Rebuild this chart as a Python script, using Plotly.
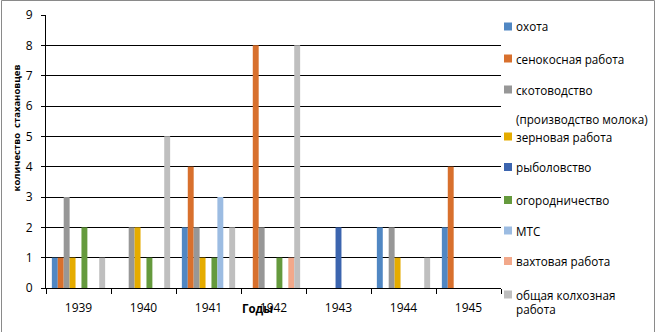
import plotly.graph_objects as go

years = ["1939", "1940", "1941", "1942", "1943", "1944", "1945"]
series_names = [
    "охота",
    "сенокосная работа",
    "скотоводство\n(производство молока)",
    "зерновая работа",
    "рыболовство",
    "огородничество",
    "МТС",
    "вахтовая работа",
    "общая колхозная\nработа",
]
colors = ["#5087C3", "#D8702D", "#979797", "#E5AC00", "#3C65AF",
          "#659A3D", "#9CBCE2", "#F2A88A", "#BFBFBF"]

ohota = [1, 0, 2, 0, 0, 2, 2]
senokos = [1, 0, 4, 8, 0, 0, 4]
skotovodstvo = [3, 2, 2, 2, 0, 2, 0]
zernovaya = [1, 2, 1, 0, 0, 1, 0]
rybolovstvo = [0, 0, 0, 0, 2, 0, 0]
ogorod = [2, 1, 1, 1, 0, 0, 0]
mts = [0, 0, 3, 0, 0, 0, 0]
vahta = [0, 0, 0, 1, 0, 0, 0]
obshaya = [1, 5, 2, 8, 0, 1, 0]
values = [ohota, senokos, skotovodstvo, zernovaya, rybolovstvo,
          ogorod, mts, vahta, obshaya]

y_ticks = list(range(0, 10))
x_title = "Годы"
y_title = "количество\u00a0\u00a0стахановцев"

W, H = 656, 332
L, R, T, B = 46, 501, 15, 288
FONT = "Open Sans"


def px(x):
    return (x - L) / (R - L)


def py(y):
    return (B - y) / (B - T)


fig = go.Figure()
for name, vals, col in zip(series_names, values, colors):
    fig.add_trace(go.Bar(x=years, y=vals, name=name.replace("\n", " "),
                         marker=dict(color=col, line=dict(width=0)),
                         showlegend=False))

shapes = []
annotations = []
# custom legend (Excel style)
item_y = [26.5, 58.5, 89.5, 136.5, 167, 200, 230.5, 261, 294.5]
second_line_gap = {2: 29, 8: 14}
for i, (name, col) in enumerate(zip(series_names, colors)):
    yc = item_y[i]
    shapes.append(dict(type="rect", xref="paper", yref="paper",
                       x0=px(504), x1=px(512), y0=py(yc - 4), y1=py(yc + 4),
                       fillcolor=col, line=dict(width=0)))
    lines = name.split("\n")
    for j, line in enumerate(lines):
        ly = yc + (second_line_gap.get(i, 14) * j)
        annotations.append(dict(text=line, xref="paper", yref="paper",
                                x=px(514), y=py(ly), xanchor="left",
                                yanchor="middle", showarrow=False,
                                font=dict(family=FONT, size=11.7, color="#000")))

# outer chart border
shapes.append(dict(type="rect", xref="paper", yref="paper",
                   x0=px(1.5), x1=px(654.5), y0=py(0.5), y1=py(345),
                   line=dict(color="#8A8A8A", width=1), fillcolor="rgba(0,0,0,0)",
                   layer="above"))

annotations.append(dict(text="<b>" + y_title + "</b>", xref="paper", yref="paper",
                        x=px(16.5), y=py(128), textangle=-90, showarrow=False,
                        xanchor="center", yanchor="middle",
                        font=dict(family=FONT, size=9.5, color="#000")))
annotations.append(dict(text="<b>" + x_title + "</b>", xref="paper", yref="paper",
                        x=px(257), y=py(308), showarrow=False,
                        xanchor="center", yanchor="middle",
                        font=dict(family=FONT, size=11.5, color="#000")))

fig.update_layout(
    width=W, height=H, autosize=False,
    margin=dict(l=L, r=W - R, t=T, b=H - B, pad=0),
    paper_bgcolor="white", plot_bgcolor="white",
    barmode="group", bargap=0.18, bargroupgap=0,
    font=dict(family=FONT, size=12, color="#000"),
    shapes=shapes, annotations=annotations,
    showlegend=False,
)
fig.update_xaxes(type="category", categoryorder="array", categoryarray=years,
                 tickson="boundaries", ticks="outside", ticklen=5,
                 tickcolor="#000", tickwidth=1, showline=True, linecolor="#000",
                 linewidth=1, showgrid=False, ticklabelstandoff=9,
                 automargin=False,
                 tickfont=dict(family=FONT, size=12, color="#000"))
fig.update_yaxes(range=[0, 9], tickvals=y_ticks, ticks="outside", ticklen=4,
                 tickcolor="#000", showline=True, linecolor="#000", linewidth=1,
                 showgrid=True, gridcolor="#000", gridwidth=1, zeroline=False,
                 ticklabelstandoff=6, automargin=False,
                 tickfont=dict(family=FONT, size=12, color="#000"))

fig.write_html("out.html",
               config={"displayModeBar": False},
               post_script="document.body.style.margin='0';"
                           "document.body.style.padding='0';")
